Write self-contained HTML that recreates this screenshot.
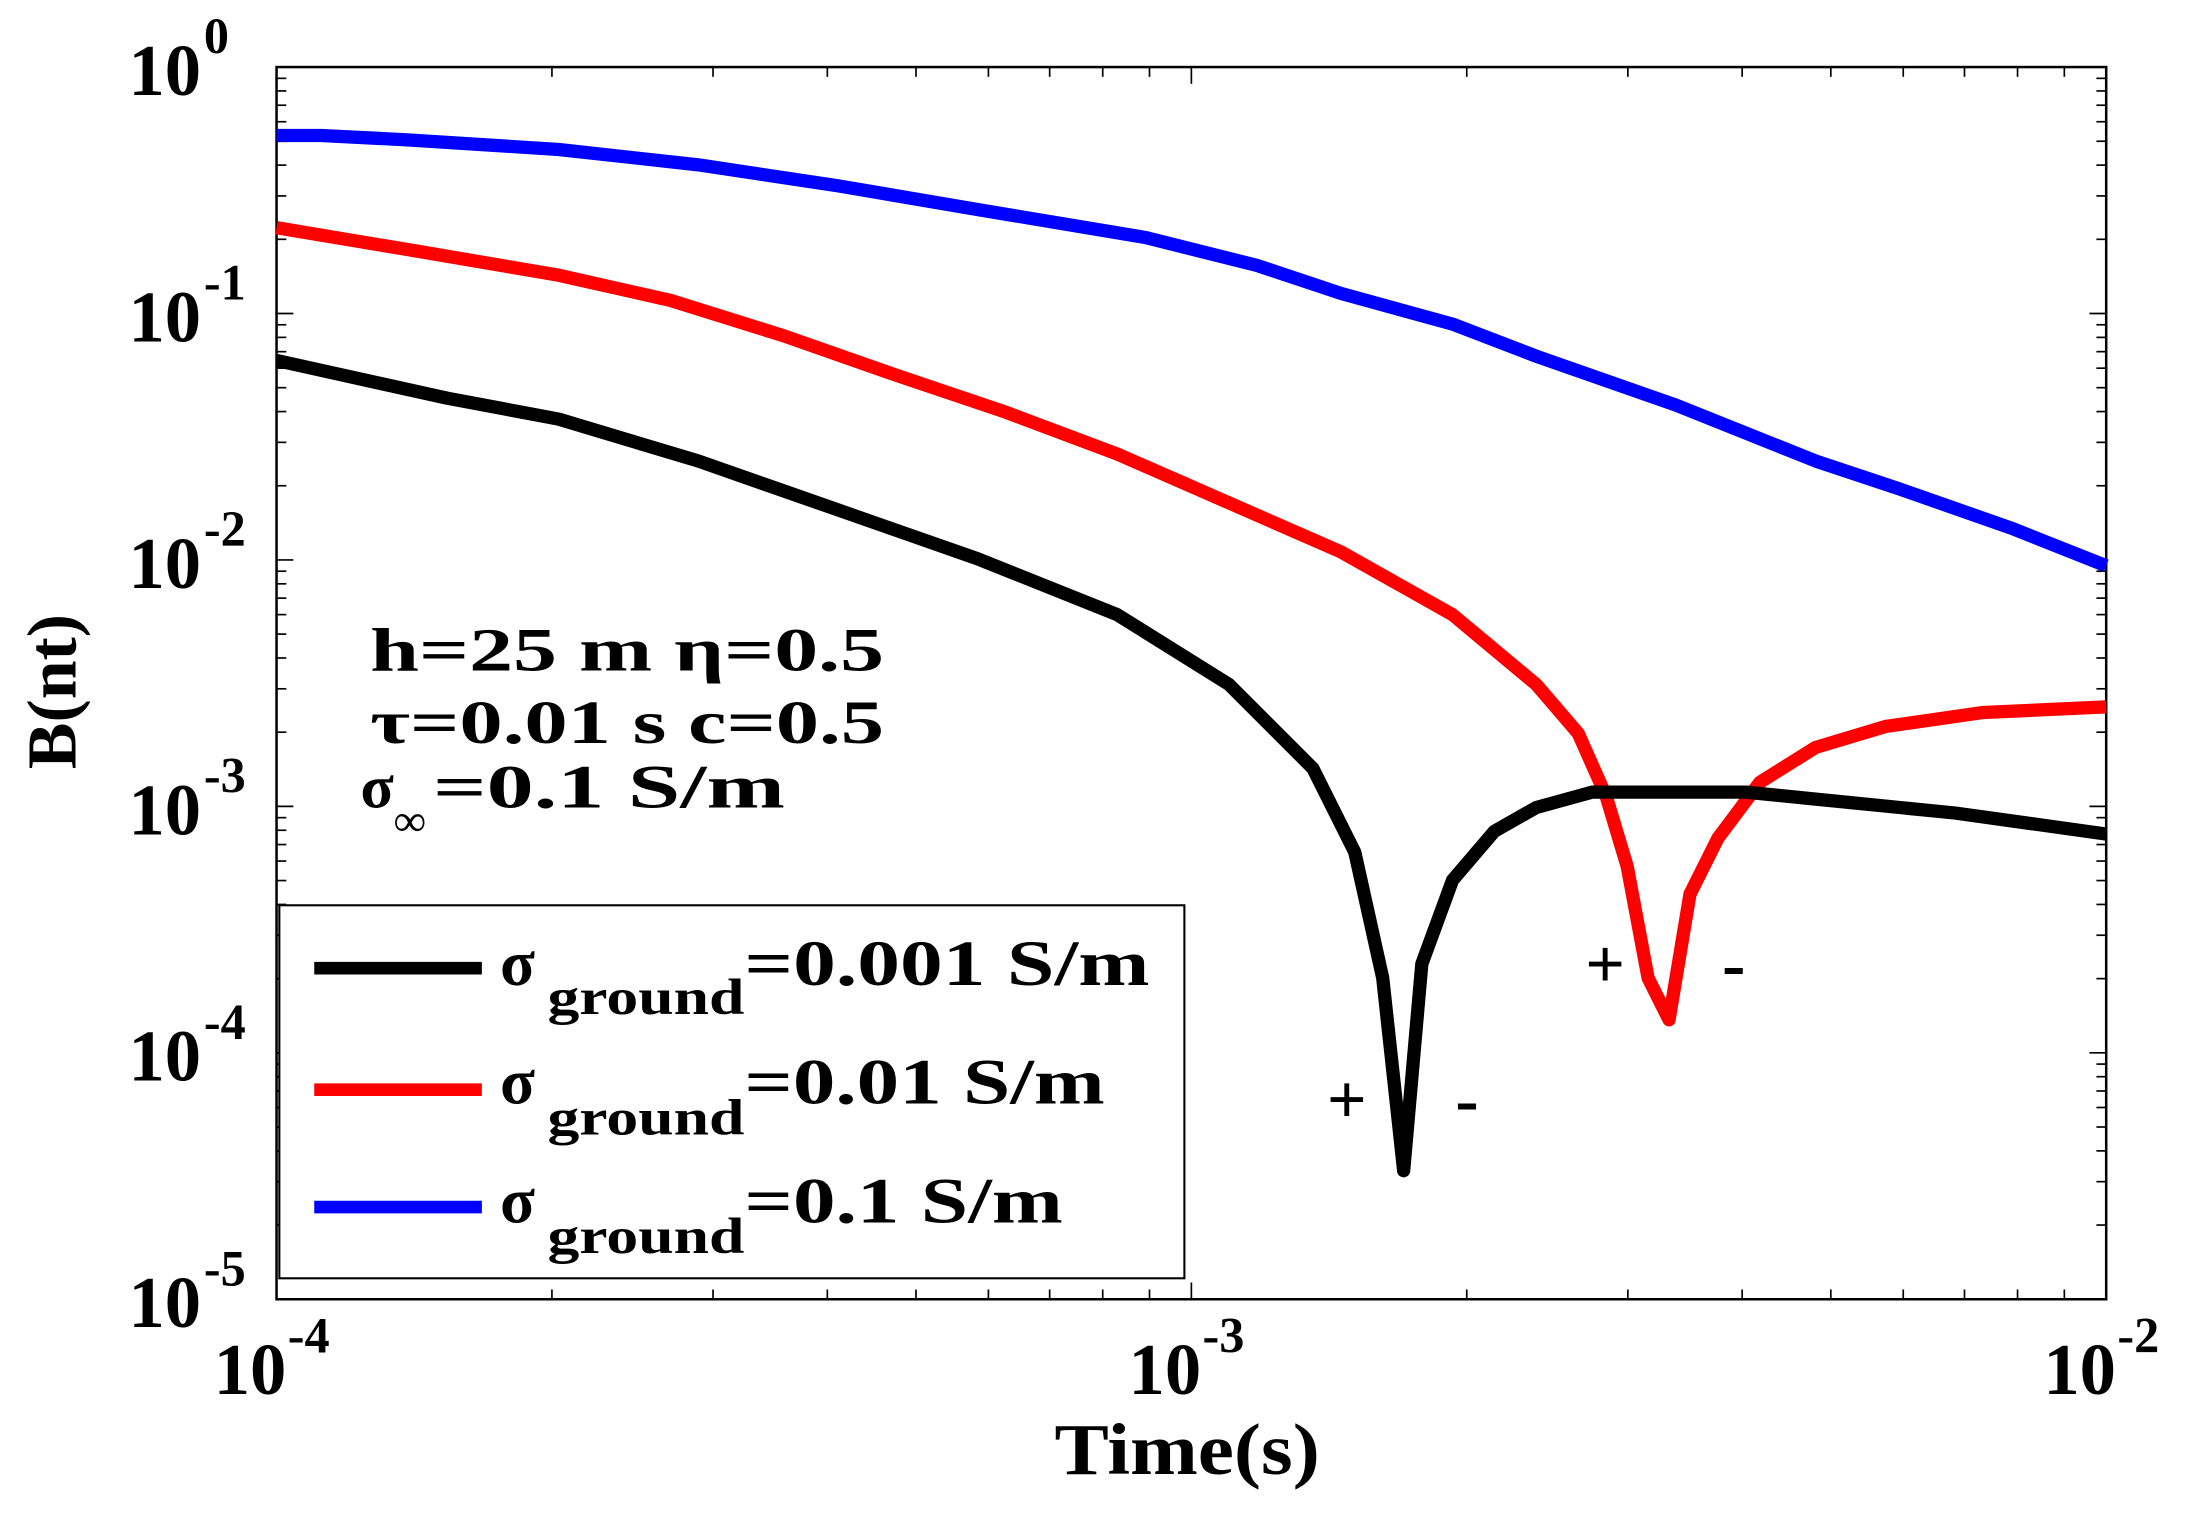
<!DOCTYPE html>
<html><head><meta charset="utf-8"><style>
html,body{margin:0;padding:0;background:#fff;}
svg{display:block;}
text{font-family:"Liberation Serif","Times New Roman",serif;font-weight:bold;fill:#000;}
</style></head><body>
<svg id="s" width="2190" height="1513" viewBox="0 0 1568 1083" preserveAspectRatio="none" xmlns="http://www.w3.org/2000/svg">
<rect x="0" y="0" width="1568" height="1083" fill="#fff"/>
<g id="ticks" stroke="#000" stroke-width="1.2"></g>
<rect x="198" y="48" width="1310" height="882" fill="none" stroke="#000" stroke-width="1.8"/>
<g fill="none" stroke-width="9.5" stroke-linejoin="round">
<polyline stroke="#00f" points="198,97 230,97 290,100 400,107 500,118 600,133 700,150 820,170 900,190 960,210 1040,232 1100,255 1200,290 1300,330 1360,350 1440,378 1508,405"/>
<polyline stroke="#f00" points="198,163 300,180 400,197 480,215 560,240 640,268 720,295 800,325 880,360 960,395 1040,440 1100,490 1130,525 1150,570 1165,620 1180,700 1195,730 1210,640 1230,600 1260,560 1300,535 1350,520 1420,510 1508,506"/>
<polyline stroke="#000" points="198,258 320,285 400,300 500,330 600,365 700,400 800,440 880,490 940,550 970,610 990,700 1005,838 1018,690 1040,630 1070,595 1100,578 1140,567 1250,567 1300,572 1400,582 1508,597"/>
</g>
<rect x="200" y="648" width="648" height="267" fill="#fff" stroke="#000" stroke-width="1.5"/>
<line x1="225" y1="693" x2="345" y2="693" stroke="#000" stroke-width="9"/>
<line x1="225" y1="780" x2="345" y2="780" stroke="#f00" stroke-width="9"/>
<line x1="225" y1="864" x2="345" y2="864" stroke="#00f" stroke-width="9"/>
<g font-size="46">
<text x="358" y="705">σ</text><text x="392" y="726" font-size="36" textLength="141" lengthAdjust="spacingAndGlyphs">ground</text><text x="533" y="705" textLength="290" lengthAdjust="spacingAndGlyphs">=0.001 S/m</text>
<text x="358" y="790">σ</text><text x="392" y="812" font-size="36" textLength="141" lengthAdjust="spacingAndGlyphs">ground</text><text x="533" y="790" textLength="258" lengthAdjust="spacingAndGlyphs">=0.01 S/m</text>
<text x="358" y="875">σ</text><text x="392" y="897" font-size="36" textLength="141" lengthAdjust="spacingAndGlyphs">ground</text><text x="533" y="875" textLength="228" lengthAdjust="spacingAndGlyphs">=0.1 S/m</text>
</g>
<g font-size="44">
<text x="265" y="480" textLength="368" lengthAdjust="spacingAndGlyphs">h=25 m  η=0.5</text>
<text x="265" y="532" textLength="368" lengthAdjust="spacingAndGlyphs">τ=0.01 s c=0.5</text>
<text x="258" y="578">σ</text><text x="282" y="598" font-size="32">∞</text><text x="310" y="578" textLength="252" lengthAdjust="spacingAndGlyphs">=0.1 S/m</text>
</g>
<g font-size="50">
<text x="950" y="804">+</text><text x="1042" y="804">-</text>
<text x="1135" y="707">+</text><text x="1233" y="707">-</text>
</g>
<g id="labels" font-size="52"></g>
<text font-size="50" transform="translate(54,495) rotate(-90)" text-anchor="middle">B(nt)</text>
<text font-size="52" x="850" y="1055" text-anchor="middle" textLength="190" lengthAdjust="spacingAndGlyphs">Time(s)</text>
</svg>
<script>
var NS="http://www.w3.org/2000/svg";
var tk=document.getElementById('ticks'),lb=document.getElementById('labels');
function L(x1,y1,x2,y2){var l=document.createElementNS(NS,'line');l.setAttribute('x1',x1);l.setAttribute('y1',y1);l.setAttribute('x2',x2);l.setAttribute('y2',y2);tk.appendChild(l);}
function T(x,y,s,fs){var t=document.createElementNS(NS,'text');t.setAttribute('x',x);t.setAttribute('y',y);if(fs)t.setAttribute('font-size',fs);t.textContent=s;lb.appendChild(t);}
var X0=198,XD=655,Y0=48,YD=176.4;
for(var d=0;d<2;d++)for(var m=1;m<10;m++){var x=X0+XD*(d+Math.log10(m));var len=m==1?12:7;L(x,930,x,930-len);L(x,48,x,48+len);}
for(var d=0;d<5;d++)for(var m=1;m<10;m++){var y=Y0+YD*(d+1-Math.log10(m));var len=m==1?12:7;L(198,y,198+len,y);L(1508,y,1508-len,y);}
var ye=['0','-1','-2','-3','-4','-5'];
for(var i=0;i<6;i++){var y=Y0+YD*i;T(92,y+20,'10');T(146,y-10,ye[i],36);}
var xe=['-4','-3','-2'];
for(var i=0;i<3;i++){var x=X0+XD*i;T(x-45,998,'10');T(x+8,968,xe[i],36);}
</script>
</body></html>
